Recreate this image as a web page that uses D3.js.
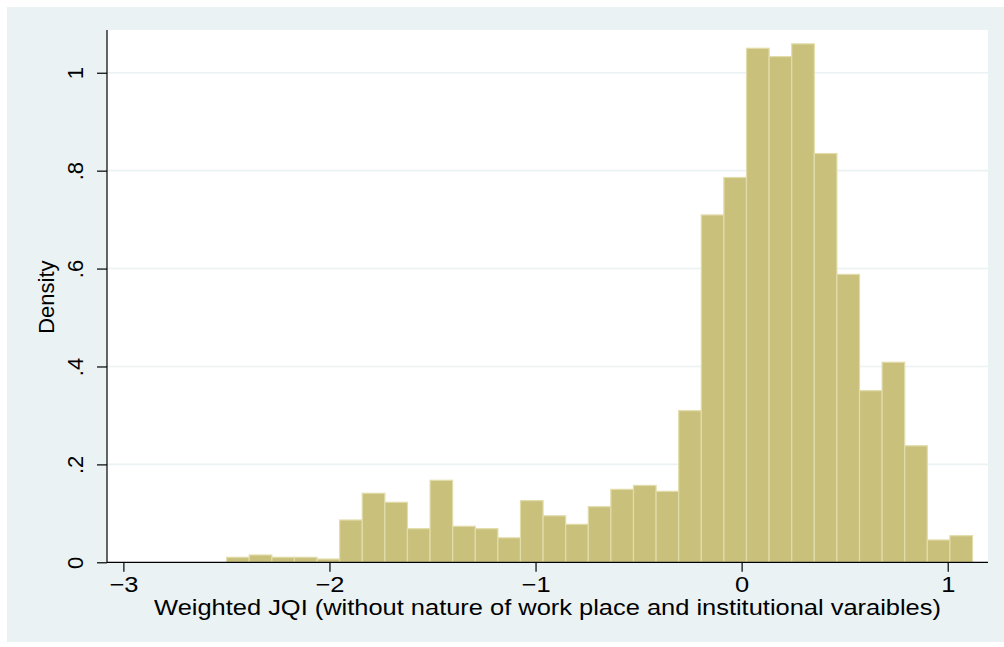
<!DOCTYPE html>
<html>
<head>
<meta charset="utf-8">
<script src="https://cdn.jsdelivr.net/npm/d3@7"></script>
<style>
  html, body { margin: 0; padding: 0; background: #ffffff; }
  svg { display: block; }
  text { font-family: "Liberation Sans", Arial, Helvetica, sans-serif; fill: #000; }
</style>
</head>
<body>
<svg id="chart" width="1004" height="647"></svg>
<script>
// Histogram of weighted JQI: 33 equal-width bins, heights are densities
const binStart = -2.499;
const binWidth = 0.10968;
const densities = [
  0.0102, 0.0149, 0.0102, 0.0102, 0.0067,
  0.0864, 0.1410, 0.1226, 0.0687, 0.1675,
  0.0735, 0.0687, 0.0500, 0.1260, 0.0950,
  0.0776, 0.1136, 0.1490, 0.1570, 0.1450,
  0.3097, 0.7095, 0.7860, 1.0500, 1.0330,
  1.0590, 0.8350, 0.5880, 0.3506, 0.4086,
  0.2380, 0.0456, 0.0544
];
const xTicks = [-3, -2, -1, 0, 1];
const yTicks = [0, 0.2, 0.4, 0.6, 0.8, 1];
const yTickLabels = ["0", ".2", ".4", ".6", ".8", "1"];
const xTitle = "Weighted JQI (without nature of work place and institutional varaibles)";
const yTitle = "Density";

const bins = densities.map((d, i) => ({
  x0: binStart + i * binWidth,
  x1: binStart + (i + 1) * binWidth,
  density: d
}));

const svg = d3.select("#chart");
const W = 1004, H = 647;
const plot = { left: 107, right: 988, top: 30, bottom: 562.3 };
const fontSize = 22;
const hStretch = 1.157;

// graph region background
svg.append("rect")
  .attr("x", 7).attr("y", 7)
  .attr("width", W - 7).attr("height", 635)
  .attr("fill", "#eaf2f3");

// plot region
svg.append("rect")
  .attr("x", plot.left).attr("y", plot.top)
  .attr("width", plot.right - plot.left).attr("height", plot.bottom - plot.top)
  .attr("fill", "#ffffff");

const x = d3.scaleLinear().domain([-3.0795, 1.1955]).range([plot.left, plot.right]);
const y = d3.scaleLinear().domain([0, 1.0873]).range([plot.bottom, plot.top]);

// horizontal grid lines
svg.append("g").selectAll("line")
  .data(yTicks.filter(t => t > 0))
  .join("line")
  .attr("x1", plot.left).attr("x2", plot.right)
  .attr("y1", d => y(d)).attr("y2", d => y(d))
  .attr("stroke", "#eaf2f3").attr("stroke-width", 1.6);

// bars
svg.append("g").selectAll("rect")
  .data(bins)
  .join("rect")
  .attr("x", d => x(d.x0))
  .attr("y", d => y(d.density))
  .attr("width", d => x(d.x1) - x(d.x0))
  .attr("height", d => y(0) - y(d.density))
  .attr("fill", "#c9c07c")
  .attr("stroke", "#e2dcaa")
  .attr("stroke-width", 1.2);

// x axis
const xAxis = d3.axisBottom(x)
  .tickValues(xTicks)
  .tickSize(9.5)
  .tickSizeOuter(0)
  .tickFormat(d3.format("d"));
const gx = svg.append("g")
  .attr("transform", `translate(0,${plot.bottom})`)
  .call(xAxis);
gx.select(".domain").remove();
gx.append("line")
  .attr("x1", plot.left).attr("x2", plot.right)
  .attr("y1", 0).attr("y2", 0)
  .attr("stroke", "#000").attr("stroke-width", 1.2);
gx.selectAll(".tick line").attr("stroke", "#000").attr("stroke-width", 1.2);
gx.selectAll(".tick text")
  .attr("y", 0).attr("dy", null)
  .attr("transform", `translate(0,29.5) scale(${hStretch},1)`)
  .style("font-size", fontSize + "px")
  .style("font-family", "'Liberation Sans', Arial, sans-serif")
  .attr("fill", "#000");

// y axis
const yAxis = d3.axisLeft(y)
  .tickValues(yTicks)
  .tickSize(10)
  .tickSizeOuter(0)
  .tickFormat((d, i) => yTickLabels[i]);
const gy = svg.append("g")
  .attr("transform", `translate(${plot.left},0)`)
  .call(yAxis);
gy.select(".domain").remove();
gy.append("line")
  .attr("x1", 0).attr("x2", 0)
  .attr("y1", plot.top).attr("y2", plot.bottom)
  .attr("stroke", "#000").attr("stroke-width", 1.2);
gy.selectAll(".tick line").attr("stroke", "#000").attr("stroke-width", 1.2);
gy.selectAll(".tick text")
  .attr("x", 0).attr("dy", null)
  .attr("text-anchor", "middle")
  .attr("transform", "translate(-24,0) rotate(-90)")
  .style("font-size", fontSize + "px")
  .style("font-family", "'Liberation Sans', Arial, sans-serif")
  .attr("fill", "#000");

// axis titles
svg.append("text")
  .attr("transform", `translate(${(plot.left + plot.right) / 2},615) scale(${hStretch},1)`)
  .attr("text-anchor", "middle")
  .style("font-size", fontSize + "px")
  .text(xTitle);

svg.append("text")
  .attr("transform", `translate(54,${(plot.top + plot.bottom) / 2 + 1}) rotate(-90)`)
  .attr("text-anchor", "middle")
  .style("font-size", fontSize + "px")
  .text(yTitle);
</script>
</body>
</html>
